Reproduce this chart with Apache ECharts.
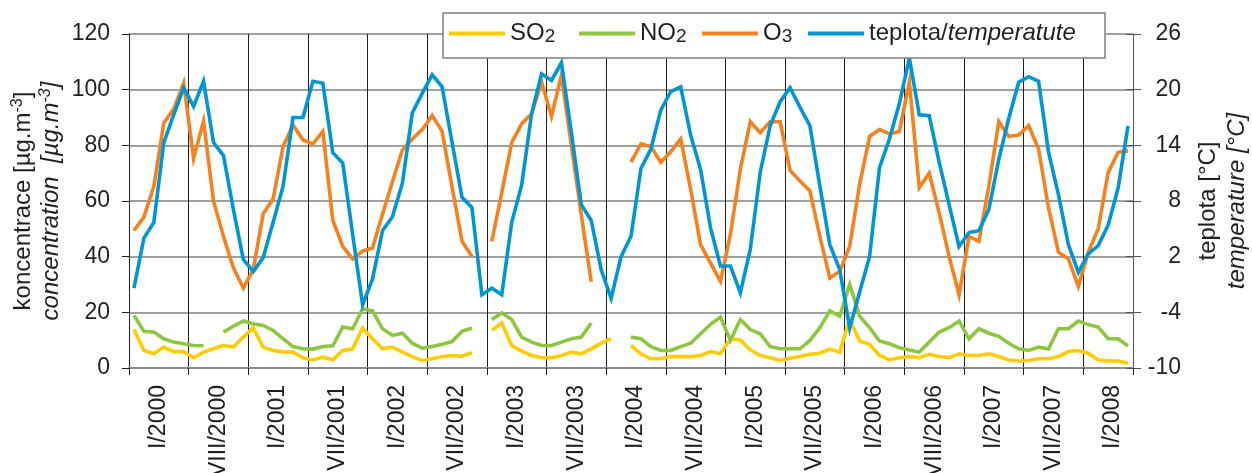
<!DOCTYPE html>
<html><head><meta charset="utf-8">
<script src="https://cdn.jsdelivr.net/npm/echarts@6/dist/echarts.min.js"></script>
<style>html,body{margin:0;padding:0;background:#fff}#c{width:1252px;height:473px}</style>
</head><body><div id="c"></div>
<script>
// ---- categories: monthly, I/2000 .. V/2008 ----
const roman = ['I','II','III','IV','V','VI','VII','VIII','IX','X','XI','XII'];
const months = [];
for (let y = 2000; y <= 2008; y++) for (let m = 0; m < 12; m++) if (months.length < 101) months.push(roman[m] + '/' + y);

// ---- tick labels (one per half-year group) ----
const tickLabels = ['I/2000','VIII/2000','I/2001','VII/2001','I/2002','VII/2002','I/2003','VII/2003','I/2004','VII/2004','I/2005','VII/2005','I/2006','VIII/2006','I/2007','VII/2007','I/2008'];

// ---- series values ----
const so2 = [13.8,6.3,5.1,7.5,5.9,5.9,3.7,5.7,6.9,8.1,7.5,11.1,14.5,7.5,6.3,5.8,5.7,3.7,2.9,3.9,2.9,6.3,6.9,14.4,10.5,6.9,7.5,5.7,4.1,2.7,3.3,4.1,4.5,4.2,5.5,null,
  13.5,16.2,8.1,6.1,4.5,3.7,3.7,4.5,5.7,5.1,6.9,8.9,10.5,null,
  8.1,5.1,3.3,3.3,4.1,4.1,4.1,4.5,5.9,5.1,10.5,10.1,6.5,4.5,3.7,2.7,3.5,4.1,4.9,5.3,6.8,5.7,17.5,9.7,8.5,4.5,2.9,3.7,4.1,3.7,4.9,4.1,3.7,5.1,4.5,4.5,5.1,4.1,2.9,2.5,2.7,3.3,3.3,4.1,5.9,6.3,5.3,2.9,2.5,2.5,1.7];
const no2 = [18.9,13.2,12.9,10.5,9.3,8.7,8.1,8.0,null,12.9,15,16.9,15.9,15.3,13.5,10.5,7.7,6.9,6.8,7.7,8.0,14.7,14.1,21.3,20.5,14.1,11.7,12.5,8.9,7.1,7.7,8.5,9.5,13.2,14.4,null,
  17.4,19.8,17.4,11.1,9.3,8.1,8.1,9.3,10.5,11.1,16.2,null,null,null,
  11.1,10.5,7.7,6.3,6.3,7.7,8.9,12.3,15.7,18.3,9.9,17.4,13.8,12.3,7.7,6.9,6.9,6.9,9.9,14.5,20.5,18.6,30.1,18.6,14.5,9.7,8.7,7.3,6.5,5.7,9.3,12.9,14.5,16.9,10.5,14.1,12.5,11.4,8.9,6.9,6.3,7.5,6.8,14.1,14.1,16.9,15.6,14.7,10.5,10.5,7.9];
const o3 = [49.4,54.2,65.4,88,93,102.4,75.3,88.7,60,47.3,36,28.7,35.3,55.4,60.8,79.6,87.3,81.9,80.5,85,53.1,43.7,39.2,42,43.1,55.2,66.9,78.3,82.3,85.7,90.7,85,65,45.5,40.1,null,
  45.5,63,81,87.7,91.3,102.8,90.4,105.2,80,55,31,null,null,null,
  74,80.5,79.6,73.9,77.7,82.3,64.2,44.3,37.7,31.1,48,71.4,88.5,84.5,88.5,88.5,71,67.2,63.6,47.3,32.3,34.7,43.7,66,83.2,85.7,84.1,85,102.8,64.8,70,55.8,40.1,26.3,47.3,45.5,65.4,88.5,83.2,83.7,87.1,78.7,57.6,41.6,39.2,29.3,41.6,50,70.2,77.5,78];
const temperature = [-1.4,4.0,5.7,14.3,17.3,20.2,18.2,20.9,14.3,12.9,7.1,1.7,0.4,1.9,5.7,9.6,17.0,17.0,20.9,20.7,13.2,12.1,4.4,-3.2,-0.4,4.8,6.3,9.9,17.5,19.6,21.6,20.3,14.3,8.4,7.3,-2.1,
  -1.4,-2.1,5.7,9.7,17.4,21.7,21.0,22.9,15.4,7.6,5.9,0.6,-2.5,2.0,
  4.2,11.5,13.6,17.8,19.8,20.3,15.1,11.4,5.1,1.0,1.0,-1.9,2.8,11.1,16.1,18.7,20.2,18.1,16.1,9.6,3.3,0.6,-5.7,-1.8,2.0,11.6,14.7,18.5,23.4,17.3,17.2,12.2,7.6,3.1,4.6,4.8,7.1,12.5,16.9,20.8,21.4,20.9,13.3,8.7,3.3,0.3,2.3,3.2,5.4,9.4,16.1];

const seriesNames = ['SO2','NO2','O3','teplota/temperatute'];
const seriesColors = ['#FFCC00','#8DC63F','#F5821F','#0096D6'];

const FONT = '"Liberation Sans", Arial, sans-serif';
const TXT = '#231f20';

const legendLefts = [449, 579, 702, 808];
const legendFmt = {'SO2':'SO{sub|2}','NO2':'NO{sub|2}','O3':'O{sub|3}','teplota/temperatute':'teplota/{it|temperatute}'};

const chart = echarts.init(document.getElementById('c'), null, {renderer:'canvas'});

const lineSeries = [so2, no2, o3, temperature].map((d, k) => ({
  name: seriesNames[k],
  type: 'line',
  data: d,
  xAxisIndex: 0,
  yAxisIndex: k === 3 ? 1 : 0,
  symbol: 'none',
  connectNulls: false,
  animation: false,
  lineStyle: {color: seriesColors[k], width: 3.6, join: 'miter', cap: 'butt'},
  itemStyle: {color: seriesColors[k]},
  z: 3 + k
}));

chart.setOption({
  animation: false,
  backgroundColor: '#fff',
  grid: {left: 129, right: 119, top: 34, bottom: 105, containLabel: false, outerBoundsMode: 'none'},
  legend: seriesNames.map((n, k) => ({
    data: [{name: n, icon: 'rect'}],
    left: legendLefts[k], top: 21, padding: 0, zlevel: 1,
    itemWidth: 56, itemHeight: 4, selectedMode: false,
    formatter: name => legendFmt[name],
    textStyle: {fontSize: 24, fontFamily: FONT, color: TXT, lineHeight: 25,
      rich: {
        sub: {fontSize: 19, fontFamily: FONT, color: TXT, lineHeight: 10, verticalAlign: 'bottom'},
        it: {fontSize: 24, fontFamily: FONT, color: TXT, fontStyle: 'italic', lineHeight: 25}
      }}
  })),
  xAxis: [
    {type: 'category', data: months, boundaryGap: true, position: 'bottom',
     axisLine: {show: true, lineStyle: {color: '#8a8a8a', width: 2}},
     axisTick: {show: true, interval: 5, length: 7, lineStyle: {color: TXT, width: 1}},
     splitLine: {show: true, interval: 5, lineStyle: {color: TXT, width: 1}},
     axisLabel: {show: false}},
    {type: 'value', min: 0, max: 101, interval: 3, position: 'bottom',
     axisLine: {show: false}, axisTick: {show: false}, splitLine: {show: false},
     axisLabel: {show: true, rotate: 90, margin: 17, fontSize: 23, fontFamily: FONT, color: TXT,
       formatter: v => { const k = Math.round(v); return (k % 6 === 3) ? (tickLabels[(k - 3) / 6] || '') : ''; }}}
  ],
  yAxis: [
    {type: 'value', min: 0, max: 120, interval: 20, position: 'left',
     axisLine: {show: true, lineStyle: {color: TXT, width: 1}},
     axisTick: {show: true, length: 7, lineStyle: {color: TXT}},
     splitLine: {show: true, lineStyle: {color: '#808080', width: 1.5}},
     axisLabel: {fontSize: 23, fontFamily: FONT, color: TXT, margin: 19}},
    {type: 'value', min: -10, max: 26, interval: 6, position: 'right',
     axisLine: {show: true, lineStyle: {color: '#555', width: 1}},
     axisTick: {show: true, length: 8, lineStyle: {color: '#555'}},
     splitLine: {show: false},
     axisLabel: {fontSize: 23, fontFamily: FONT, color: TXT, margin: 48, align: 'right'}},
    {type: 'value', min: -10, max: 26, interval: 6, position: 'right',
     axisLine: {show: false},
     axisTick: {show: true, inside: true, length: 7, lineStyle: {color: '#555'}},
     splitLine: {show: false}, axisLabel: {show: false}}
  ],
  graphic: {elements: [
    {type: 'rect', z: 100, shape: {x: 443, y: 13, width: 662, height: 45},
     style: {fill: '#fff', stroke: '#808080', lineWidth: 1.5}},
    {type: 'text', x: 23, y: 201, rotation: Math.PI / 2,
     style: {text: 'koncentrace [µg.m{sup|-3}]', fontSize: 24, fontFamily: FONT, fill: TXT, align: 'center', verticalAlign: 'middle', lineHeight: 26,
       rich: {sup: {fontSize: 16, fontFamily: FONT, fill: TXT, lineHeight: 10, verticalAlign: 'top'}}}},
    {type: 'text', x: 51, y: 201, rotation: Math.PI / 2,
     style: {text: 'concentration  [µg.m{sup|-3}]', fontSize: 24, fontStyle: 'italic', fontFamily: FONT, fill: TXT, align: 'center', verticalAlign: 'middle', lineHeight: 26,
       rich: {sup: {fontSize: 16, fontStyle: 'italic', fontFamily: FONT, fill: TXT, lineHeight: 10, verticalAlign: 'top'}}}},
    {type: 'text', x: 1208, y: 201, rotation: Math.PI / 2,
     style: {text: 'teplota [°C]', fontSize: 24, fontFamily: FONT, fill: TXT, align: 'center', verticalAlign: 'middle'}},
    {type: 'text', x: 1237, y: 201, rotation: Math.PI / 2,
     style: {text: 'temperature [°C]', fontSize: 24, fontStyle: 'italic', fontFamily: FONT, fill: TXT, align: 'center', verticalAlign: 'middle'}}
  ]},
  series: lineSeries
});
</script>
</body></html>
